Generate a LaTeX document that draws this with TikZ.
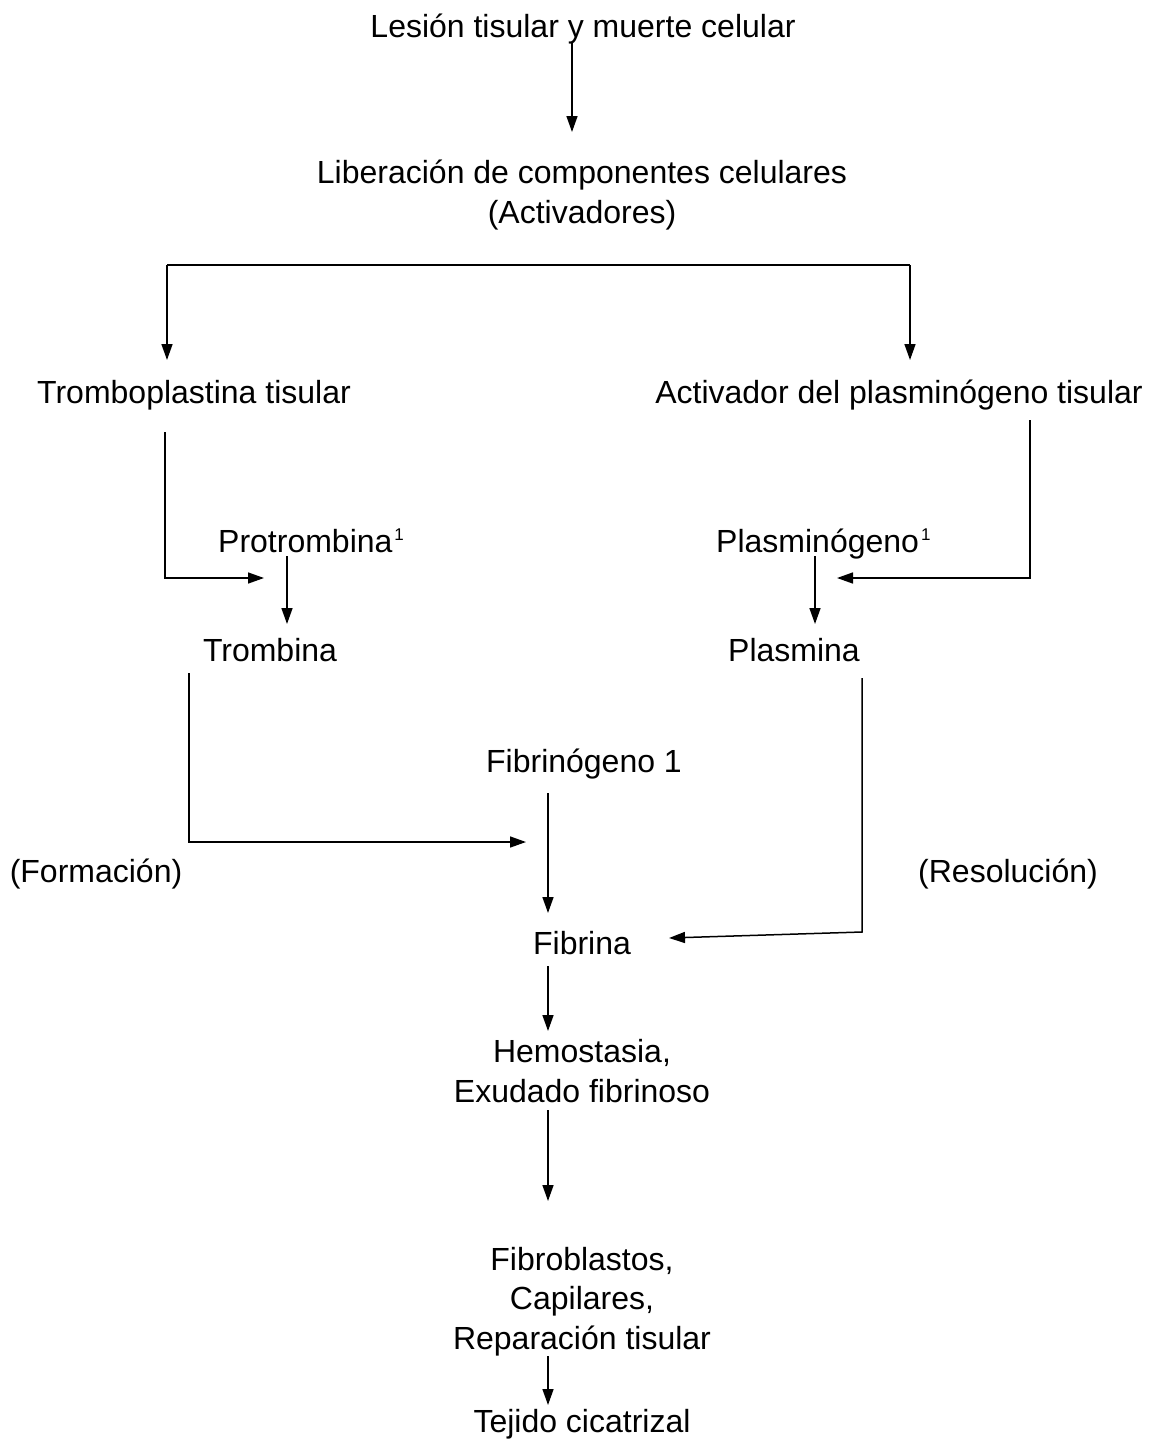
\documentclass[tikz,border=0pt]{standalone}
\usepackage{fontspec}
\setmainfont{Liberation Sans}
\usetikzlibrary{arrows.meta}
\newcommand{\supone}{\kern2pt\raisebox{11.5pt}{\fontsize{17}{17}\selectfont 1}}
\begin{document}
\begin{tikzpicture}[x=1pt,y=-1pt,
  lbl/.style={anchor=base,inner sep=0pt,font=\fontsize{32}{39.5}\selectfont,align=center},
  arr/.style={line width=1.5pt,-{Triangle[length=16pt,width=11pt]}},
  ln/.style={line width=1.5pt}]
\useasboundingbox (0,0) rectangle (1151,1440);
% texts (base anchor = baseline of the last line)
\node[lbl] (lesion) at (583,37) {Lesión tisular y muerte celular};
\node[lbl] (liber) at (582,223) {Liberación de componentes celulares\\(Activadores)};
\node[lbl] (trombopl) at (194,403) {Tromboplastina tisular};
\node[lbl] (activ) at (899,403) {Activador del plasminógeno tisular};
\node[lbl,anchor=base west] (protr) at (218,552) {Protrombina\supone};
\node[lbl,anchor=base west] (plasg) at (716,552) {Plasminógeno\supone};
\node[lbl] (tromb) at (270,661) {Trombina};
\node[lbl] (plasm) at (794,661) {Plasmina};
\node[lbl] (fibrg) at (584,772) {Fibrinógeno 1};
\node[lbl] (form) at (96,882) {(Formación)};
\node[lbl] (resol) at (1008,882) {(Resolución)};
\node[lbl] (fibrina) at (582,954) {Fibrina};
\node[lbl] (hemo) at (582,1102) {Hemostasia,\\Exudado fibrinoso};
\node[lbl] (fibro) at (582,1349) {Fibroblastos,\\Capilares,\\Reparación tisular};
\node[lbl] (tejido) at (582,1432) {Tejido cicatrizal};
% coordinates
\coordinate (a1s) at (572,42);  \coordinate (a1e) at (572,132);
\coordinate (brL) at (167,265); \coordinate (brR) at (910,265);
\coordinate (brLe) at (167,360); \coordinate (brRe) at (910,360);
\coordinate (tpS) at (165,432); \coordinate (tpC) at (165,578); \coordinate (tpE) at (264,578);
\coordinate (acS) at (1030,420); \coordinate (acC) at (1030,578); \coordinate (acE) at (837,578);
\coordinate (prS) at (287,556); \coordinate (prE) at (287,624);
\coordinate (pgS) at (815,556); \coordinate (pgE) at (815,624);
\coordinate (trS) at (189,673); \coordinate (trC) at (189,842); \coordinate (trE) at (526,842);
\coordinate (plS) at (862,678); \coordinate (plC) at (862,932); \coordinate (plE) at (669,938);
\coordinate (fgS) at (548,793); \coordinate (fgE) at (548,913);
\coordinate (fbS) at (548,966); \coordinate (fbE) at (548,1031);
\coordinate (hmS) at (548,1110); \coordinate (hmE) at (548,1201);
\coordinate (frS) at (548,1356); \coordinate (frE) at (548,1405);
% connectors
\draw[arr] (a1s) -- (a1e);
\draw[ln] (brL) -- (brR);
\draw[arr] (brL) -- (brLe);
\draw[arr] (brR) -- (brRe);
\draw[arr] (tpS) -- (tpC) -- (tpE);
\draw[arr] (acS) -- (acC) -- (acE);
\draw[arr] (prS) -- (prE);
\draw[arr] (pgS) -- (pgE);
\draw[arr] (trS) -- (trC) -- (trE);
\draw[arr] (plS) -- (plC) -- (plE);
\draw[arr] (fgS) -- (fgE);
\draw[arr] (fbS) -- (fbE);
\draw[arr] (hmS) -- (hmE);
\draw[arr] (frS) -- (frE);
\end{tikzpicture}
\end{document}
